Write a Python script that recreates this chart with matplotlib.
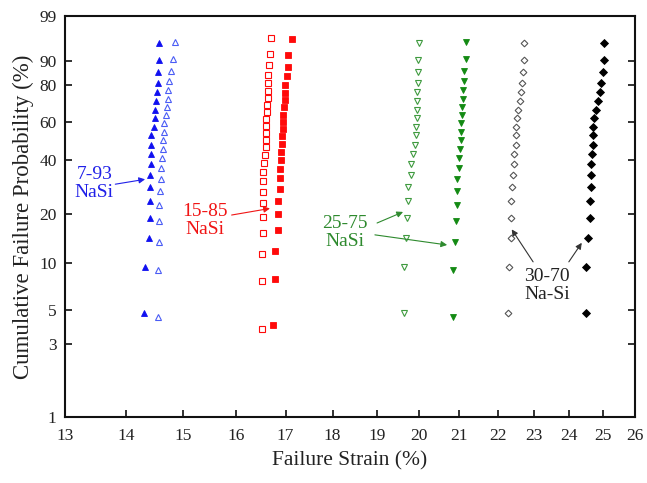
import numpy as np
import matplotlib
matplotlib.use("Agg")
import matplotlib.pyplot as plt
from matplotlib.ticker import FixedLocator, FixedFormatter, NullLocator

plt.rcParams['font.family'] = ['Liberation Serif', 'DejaVu Serif']

# ---- data ----
# 7-93 NaSi
blue_filled_x = [14.31, 14.33, 14.40, 14.41, 14.42, 14.42, 14.42, 14.43, 14.43, 14.44,
                 14.44, 14.48, 14.51, 14.51, 14.52, 14.54, 14.55, 14.55, 14.57, 14.58]
blue_filled_p = [4.8, 9.5, 14.3, 19.0, 23.8, 28.6, 33.3, 38.1, 42.9, 47.6,
                 52.4, 57.1, 61.9, 66.7, 71.4, 76.2, 81.0, 85.7, 90.5, 95.2]
blue_open_x = [14.55, 14.55, 14.57, 14.57, 14.58, 14.60, 14.61, 14.61, 14.63, 14.64,
               14.65, 14.67, 14.67, 14.69, 14.72, 14.73, 14.73, 14.76, 14.79, 14.83, 14.86]
blue_open_p = [4.5, 9.1, 13.6, 18.2, 22.7, 27.3, 31.8, 36.4, 40.9, 45.5,
               50.0, 54.5, 59.1, 63.6, 68.2, 72.7, 77.3, 81.8, 86.4, 90.9, 95.5]
# 15-85 NaSi
red_open_x = [16.51, 16.51, 16.51, 16.53, 16.53, 16.53, 16.53, 16.54, 16.54, 16.55,
              16.57, 16.59, 16.60, 16.60, 16.60, 16.60, 16.62, 16.62, 16.63, 16.64,
              16.65, 16.65, 16.67, 16.68, 16.71]
red_open_p = [3.8, 7.7, 11.5, 15.4, 19.2, 23.1, 26.9, 30.8, 34.6, 38.5,
              42.3, 46.2, 50.0, 53.8, 57.7, 61.5, 65.4, 69.2, 73.1, 76.9,
              80.8, 84.6, 88.5, 92.3, 96.2]
red_filled_x = [16.74, 16.79, 16.79, 16.85, 16.85, 16.85, 16.89, 16.89, 16.89, 16.90,
                16.91, 16.92, 16.93, 16.95, 16.95, 16.95, 16.96, 16.98, 16.99, 16.99,
                17.03, 17.04, 17.04, 17.13]
red_filled_p = [4.0, 8.0, 12.0, 16.0, 20.0, 24.0, 28.0, 32.0, 36.0, 40.0,
                44.0, 48.0, 52.0, 56.0, 60.0, 64.0, 68.0, 72.0, 76.0, 80.0,
                84.0, 88.0, 92.0, 96.0]
# 25-75 NaSi
green_open_x = [19.64, 19.64, 19.69, 19.71, 19.72, 19.74, 19.79, 19.80, 19.85, 19.89,
                19.91, 19.93, 19.94, 19.94, 19.95, 19.95, 19.96, 19.97, 19.97, 20.00]
green_open_p = [4.8, 9.5, 14.3, 19.0, 23.8, 28.6, 33.3, 38.1, 42.9, 47.6,
                52.4, 57.1, 61.9, 66.7, 71.4, 76.2, 81.0, 85.7, 90.5, 95.2]
green_filled_x = [20.83, 20.83, 20.90, 20.91, 20.93, 20.93, 20.94, 20.98, 21.00, 21.01,
                  21.03, 21.04, 21.04, 21.06, 21.08, 21.09, 21.09, 21.11, 21.12, 21.16, 21.16]
green_filled_p = [4.5, 9.1, 13.6, 18.2, 22.7, 27.3, 31.8, 36.4, 40.9, 45.5,
                  50.0, 54.5, 59.1, 63.6, 68.2, 72.7, 77.3, 81.8, 86.4, 90.9, 95.5]
# 30-70 Na-Si
black_open_x = [22.28, 22.30, 22.35, 22.37, 22.37, 22.39, 22.41, 22.44, 22.44, 22.49,
                22.49, 22.50, 22.53, 22.55, 22.62, 22.64, 22.66, 22.68, 22.71, 22.73]
black_open_p = [4.8, 9.5, 14.3, 19.0, 23.8, 28.6, 33.3, 38.1, 42.9, 47.6,
                52.4, 57.1, 61.9, 66.7, 71.4, 76.2, 81.0, 85.7, 90.5, 95.2]
black_filled_x = [24.49, 24.50, 24.56, 24.61, 24.62, 24.64, 24.65, 24.66, 24.69, 24.70,
                  24.71, 24.72, 24.74, 24.79, 24.87, 24.93, 24.94, 25.01, 25.03, 25.03]
black_filled_p = [4.8, 9.5, 14.3, 19.0, 23.8, 28.6, 33.3, 38.1, 42.9, 47.6,
                  52.4, 57.1, 61.9, 66.7, 71.4, 76.2, 81.0, 85.7, 90.5, 95.2]

x_ticks = [13, 14, 15, 16, 17, 18, 19, 20, 21, 22, 23, 24, 25, 26]
y_ticks = [1, 3, 5, 10, 20, 40, 60, 80, 90, 99]


# ---- Weibull probability scale ----
def fwd(p):
    p = np.clip(np.asarray(p, dtype=float), 1e-6, 100 - 1e-6) / 100.0
    return np.log(-np.log(1.0 - p))


def inv(w):
    w = np.asarray(w, dtype=float)
    return 100.0 * (1.0 - np.exp(-np.exp(w)))


fig = plt.figure(figsize=(6.47, 4.83), dpi=100)
ax = fig.add_axes([65 / 647, 1 - 417 / 483, 570 / 647, 401 / 483])
ax.set_xscale('log')
ax.set_yscale('function', functions=(fwd, inv))

blue = '#1010f0'
blue_l = '#4a5cf5'
red = '#ff0a0a'
green = '#138a13'
green_l = '#3f9a3f'
black = '#000000'
gray = '#555555'

ax.plot(blue_filled_x, blue_filled_p, ls='none', marker='^', ms=4.6,
        mfc=blue, mec=blue, mew=0.6)
ax.plot(blue_open_x, blue_open_p, ls='none', marker='^', ms=4.6,
        mfc='none', mec=blue_l, mew=0.8)
ax.plot(red_open_x, red_open_p, ls='none', marker='s', ms=4.0,
        mfc='none', mec=red, mew=0.8)
ax.plot(red_filled_x, red_filled_p, ls='none', marker='s', ms=4.0,
        mfc=red, mec=red, mew=0.6)
ax.plot(green_open_x, green_open_p, ls='none', marker='v', ms=4.6,
        mfc='none', mec=green_l, mew=0.8)
ax.plot(green_filled_x, green_filled_p, ls='none', marker='v', ms=4.6,
        mfc=green, mec=green, mew=0.6)
ax.plot(black_open_x, black_open_p, ls='none', marker='D', ms=3.4,
        mfc='none', mec=gray, mew=0.8)
ax.plot(black_filled_x, black_filled_p, ls='none', marker='D', ms=3.6,
        mfc=black, mec=black, mew=0.6)

ax.set_xlim(13, 26)
ax.set_ylim(1, 99)
ax.xaxis.set_major_locator(FixedLocator(x_ticks))
ax.xaxis.set_major_formatter(FixedFormatter([str(t) for t in x_ticks]))
ax.xaxis.set_minor_locator(NullLocator())
ax.yaxis.set_major_locator(FixedLocator(y_ticks))
ax.yaxis.set_major_formatter(FixedFormatter([str(t) for t in y_ticks]))
ax.yaxis.set_minor_locator(NullLocator())

ax.tick_params(axis='both', direction='in', length=5, width=1.3,
               labelsize=12.5, colors='#222222')
ax.tick_params(axis='y', right=True, pad=6)
ax.tick_params(axis='x', pad=8)
for s in ax.spines.values():
    s.set_linewidth(1.5)
    s.set_color('#111111')

ax.set_xlabel('Failure Strain (%)', fontsize=15.5, color='#222222', labelpad=5)
ax.set_ylabel('Cumulative Failure Probability (%)', fontsize=16.5, color='#222222',
              labelpad=4)

# ---- annotations ----
ak = dict(arrowstyle='-|>', lw=0.8, mutation_scale=9, shrinkA=0, shrinkB=0)
tk = dict(ha='center', va='center', fontsize=14, linespacing=1.1)

ax.text(13.47, 30.0, '7-93\nNaSi', color='#2020e8', **tk)
ax.annotate('', xy=(14.33, 31.6), xytext=(13.82, 29.7),
            arrowprops=dict(color='#2020e8', **ak))

ax.text(15.41, 18.3, '15-85\nNaSi', color='#f01515', **tk)
ax.annotate('', xy=(16.68, 21.6), xytext=(15.92, 19.75),
            arrowprops=dict(color='#f01515', **ak))

ax.text(18.28, 15.5, '25-75\nNaSi', color='#2e8a2e', **tk)
ax.annotate('', xy=(19.61, 20.6), xytext=(19.00, 17.7),
            arrowprops=dict(color='#2e8a2e', **ak))
ax.annotate('', xy=(20.69, 13.0), xytext=(18.95, 15.0),
            arrowprops=dict(color='#2e8a2e', **ak))

ax.text(23.37, 7.2, '30-70\nNa-Si', color='#222222', **tk)
ax.annotate('', xy=(22.38, 16.2), xytext=(22.97, 10.2),
            arrowprops=dict(color='#333333', **ak))
ax.annotate('', xy=(24.37, 13.4), xytext=(23.99, 10.2),
            arrowprops=dict(color='#333333', **ak))

fig.savefig('out.png', dpi=100)
